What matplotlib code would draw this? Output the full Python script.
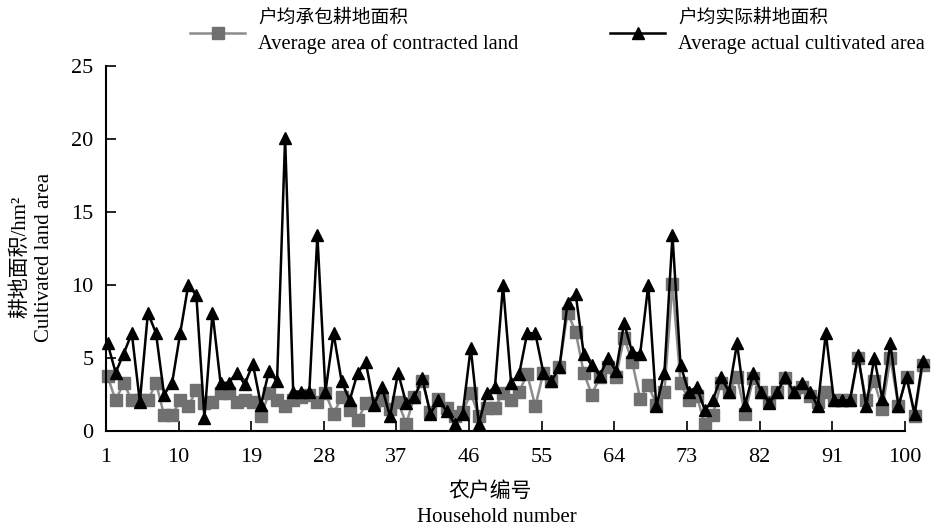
import matplotlib.pyplot as plt
from matplotlib.lines import Line2D
import numpy as np

plt.rcParams['font.family'] = ['Liberation Serif', 'Noto Sans CJK SC']

# 户均承包耕地面积 / 户均实际耕地面积 (hm2), 102 households
contracted = [3.75, 2.1, 3.3, 2.1, 2.1, 2.1, 3.3, 1.1, 1.1, 2.1,
              1.7, 2.8, 1.9, 2.0, 2.6, 2.6, 2.0, 2.1, 2.0, 1.0,
              2.6, 2.1, 1.7, 2.1, 2.3, 2.5, 2.0, 2.6, 1.2, 2.3,
              1.45, 0.75, 1.9, 1.9, 2.1, 1.5, 2.0, 0.5, 2.3, 3.4,
              1.3, 2.2, 1.6, 1.0, 1.3, 2.6, 1.0, 1.6, 1.6, 2.6,
              2.1, 2.7, 3.9, 1.7, 4.0, 3.4, 4.4, 8.1, 6.8, 4.0,
              2.5, 3.7, 4.4, 3.7, 6.4, 4.75, 2.2, 3.15, 1.8, 2.7,
              10.1, 3.3, 2.1, 2.4, 0.5, 1.1, 3.3, 2.7, 3.7, 1.2,
              3.6, 2.7, 2.0, 2.7, 3.6, 2.7, 3.0, 2.4, 2.0, 2.7,
              2.1, 2.1, 2.1, 5.0, 2.1, 3.4, 1.5, 5.0, 1.7, 3.7,
              1.0, 4.5]
actual = [6.0, 4.0, 5.3, 6.7, 2.0, 8.1, 6.7, 2.5, 3.3, 6.7,
          10.0, 9.3, 0.9, 8.1, 3.3, 3.3, 4.0, 3.2, 4.6, 1.8,
          4.1, 3.4, 20.1, 2.7, 2.7, 2.7, 13.4, 2.7, 6.7, 3.4,
          2.1, 4.0, 4.7, 1.8, 3.0, 1.0, 4.0, 1.9, 2.3, 3.6,
          1.2, 2.1, 1.4, 0.5, 1.2, 5.7, 0.5, 2.6, 3.0, 10.0,
          3.3, 3.9, 6.7, 6.7, 4.0, 3.4, 4.4, 8.8, 9.4, 5.3,
          4.5, 3.8, 5.0, 4.1, 7.4, 5.4, 5.3, 10.0, 1.7, 4.0,
          13.4, 4.5, 2.7, 3.0, 1.45, 2.1, 3.7, 2.7, 6.0, 1.8,
          3.95, 2.7, 1.9, 2.7, 3.7, 2.7, 3.3, 2.7, 1.7, 6.7,
          2.1, 2.1, 2.1, 5.2, 1.7, 5.0, 2.2, 6.0, 1.7, 3.7,
          1.2, 4.8]
households = np.arange(1, len(actual) + 1)
tick_labels = [1, 10, 19, 28, 37, 46, 55, 64, 73, 82, 91, 100]

fig = plt.figure(figsize=(9.36, 5.25), dpi=100)
ax = fig.add_axes([0.1132, 0.179, 0.8803, 0.6952])

gray_style = dict(color='#8c8c8c', lw=1.8, marker='s', ms=8, mfc='#707070', mec='#707070')
black_style = dict(color='black', lw=1.8, marker='^', ms=9)

ax.plot(households, contracted, clip_on=False, **gray_style)
ax.plot(households, actual, clip_on=False, **black_style)

ax.set_xlim(0.8, 102.9)
ax.set_ylim(0, 25)
ax.set_xticks(np.array(tick_labels) - 0.2, [str(t) for t in tick_labels])
ax.set_yticks(range(0, 26, 5))
ax.spines[['top', 'right']].set_visible(False)
ax.spines['bottom'].set_bounds(0.8, 99.8)
ax.spines['left'].set_linewidth(1.5)
ax.spines['bottom'].set_linewidth(1.5)
ax.tick_params(direction='in', length=7.5, width=1.2, labelsize=16)
ax.tick_params(axis='x', pad=12)
ax.tick_params(axis='y', pad=9)

# axis titles, Chinese above English
fig.text(0.0215, 0.5105, '耕地面积/hm²', rotation=90, ha='center', va='center', fontsize=15)
fig.text(0.048, 0.5105, 'Cultivated land area', rotation=90, ha='center', va='center', fontsize=15)
fig.text(0.5235, 0.0629, '农户编号', ha='center', va='center', fontsize=15)
fig.text(0.531, 0.0152, 'Household number', ha='center', va='center', fontsize=15)

# legend drawn by hand so the two text lines sit like the original
legend_items = [
    (gray_style, '户均承包耕地面积', 'Average area of contracted land', 190),
    (black_style, '户均实际耕地面积', 'Average actual cultivated area', 610),
]
for style, zh, en, x0 in legend_items:
    xs = np.array([x0, x0 + 27.5, x0 + 55]) / 936
    fig.add_artist(Line2D(xs, [1 - 33 / 525] * 3, markevery=[1], **style))
    fig.text((x0 + 68) / 936, 1 - 18 / 525, zh, ha='left', va='center', fontsize=13.5)
    fig.text((x0 + 68) / 936, 1 - 44 / 525, en, ha='left', va='center', fontsize=14.8)

fig.savefig('out.png', dpi=100)
